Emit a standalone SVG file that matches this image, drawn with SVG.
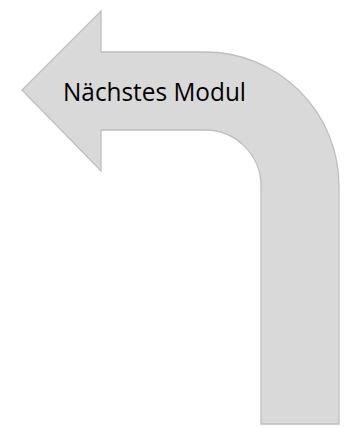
<svg xmlns="http://www.w3.org/2000/svg" width="345" height="428" viewBox="0 0 345 428">
<style>
.shape{fill:#d9d9d9;stroke:#bfbfbf;stroke-width:1.3}
.label{font-family:"Open Sans","Liberation Sans",sans-serif;font-size:25px;fill:#000}
</style>
<rect width="345" height="428" fill="#fff"/>
<g id="arrow">
<path class="shape" d="M261,424 L261,186 A56,56 0 0 0 205,130 L101,130 L101,171 L22,90 L101,11 L101,52 L205,52 A134,134 0 0 1 339,186 L339,424 Z"/>
<text class="label" x="63" y="101" textLength="183" lengthAdjust="spacingAndGlyphs">Nächstes Modul</text>
</g>
</svg>
